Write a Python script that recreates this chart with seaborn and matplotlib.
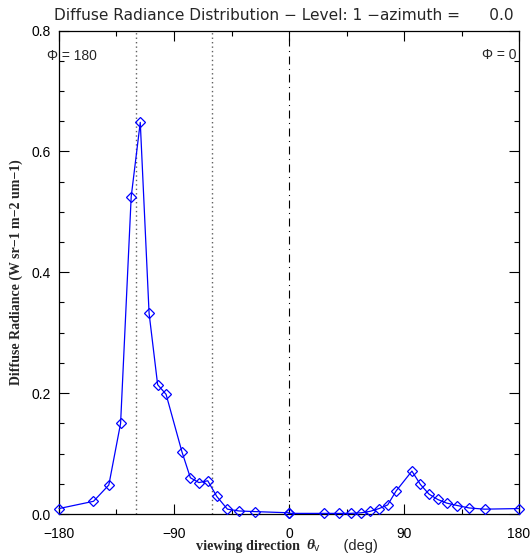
import numpy as np
import pandas as pd
import seaborn as sns
import matplotlib
matplotlib.use("Agg")
import matplotlib.pyplot as plt
from matplotlib.ticker import MultipleLocator, FormatStrFormatter
from matplotlib.offsetbox import TextArea, HPacker, AnnotationBbox

# ---- data ----
view_dir = [-180, -153, -141, -131.8, -123.5, -116.4, -109.5, -102.8, -96.2,
            -83.8, -77.2, -70.5, -63.6, -56.5, -48.2, -39, -27, 0,
            0, 27, 39, 48.2, 56.5, 63.6, 70.5, 77.2, 83.8,
            96.2, 102.8, 109.5, 116.4, 123.5, 131.8, 141, 153, 180]
radiance = [0.009, 0.021, 0.048, 0.150, 0.525, 0.648, 0.332, 0.214, 0.198,
            0.103, 0.060, 0.052, 0.055, 0.029, 0.008, 0.005, 0.004, 0.002,
            0.001, 0.001, 0.001, 0.001, 0.002, 0.0045, 0.009, 0.015, 0.038,
            0.071, 0.049, 0.033, 0.024, 0.018, 0.014, 0.010, 0.008, 0.009]
dotted_lines = [-120, -60]
dashdot_line = [0]
x_ticks = [-180, -90, 0, 90, 180]
y_ticks = [0.0, 0.2, 0.4, 0.6, 0.8]
title = "Diffuse Radiance Distribution \u2212 Level: 1 \u2212azimuth =      0.0"
left_note = "\u03a6 = 180"
right_note = "\u03a6 = 0"

df = pd.DataFrame({"view": view_dir, "rad": radiance})

sns.set_style("ticks")
plt.rcParams["font.family"] = ["Liberation Sans", "DejaVu Sans"]
plt.rcParams["mathtext.fontset"] = "custom"
plt.rcParams["mathtext.it"] = "Liberation Serif:italic:bold"
plt.rcParams["mathtext.rm"] = "Liberation Sans"

fig = plt.figure(figsize=(5.31, 5.57), dpi=100)
ax = fig.add_axes([59 / 531, 1 - 514 / 557, 460 / 531, 483.5 / 557])

for xv in dotted_lines:
    ax.axvline(xv, color="#606060", lw=1.0, linestyle=(0, (1, 2.2)), zorder=1)
for xv in dashdot_line:
    ax.axvline(xv, color="black", lw=0.8, linestyle=(0, (7.2, 4, 1, 4)), zorder=1)

sns.lineplot(data=df, x="view", y="rad", estimator=None, sort=False, ax=ax,
             color="#0000ff", lw=0.9, marker="D", markersize=5.5,
             markerfacecolor="none", markeredgecolor="#0000ff",
             markeredgewidth=0.9, zorder=3, clip_on=False)

ax.set_xlim(-180, 180)
ax.set_ylim(0, 0.8)
ax.set_xticks(x_ticks)
ax.set_yticks(y_ticks)
ax.xaxis.set_minor_locator(MultipleLocator(45))
ax.yaxis.set_minor_locator(MultipleLocator(0.05))
ax.yaxis.set_major_formatter(FormatStrFormatter("%.1f"))
ax.tick_params(which="both", direction="in", top=True, right=True,
               colors="black", labelsize=10, width=0.8)
ax.tick_params(which="major", length=7)
ax.tick_params(which="minor", length=3.5)
ax.tick_params(axis="x", which="major", pad=9)
ax.tick_params(axis="y", which="major", pad=6)
for s in ax.spines.values():
    s.set_visible(True)
    s.set_color("black")
    s.set_linewidth(0.9)

ax.set_xlabel("")
ax.set_ylabel("Diffuse Radiance (W sr\u22121 m\u22122 um\u22121)",
              fontfamily="Liberation Serif", fontweight="bold", fontsize=10,
              labelpad=6)

fig.text(284 / 531, 1 - 16 / 557, title, ha="center", va="center",
         fontsize=11.1, fontfamily="DejaVu Sans")

ax.text(47 / 531, 1 - 56 / 557, left_note, transform=fig.transFigure,
        ha="left", va="center", fontsize=10)
ax.text(517 / 531, 1 - 55 / 557, right_note, transform=fig.transFigure,
        ha="right", va="center", fontsize=10)

# x label with mixed fonts
t1 = TextArea("viewing direction",
              textprops=dict(fontfamily="Liberation Serif", fontweight="bold", fontsize=10.2))
t2 = TextArea(r"$\theta_{\mathrm{v}}$", textprops=dict(fontsize=11))
t3 = TextArea("    (deg)", textprops=dict(fontfamily="Liberation Sans", fontsize=10.5))
pack = HPacker(children=[t1, t2, t3], align="baseline", pad=0, sep=4)
ab = AnnotationBbox(pack, (287 / 531, 1 - 546 / 557), xycoords="figure fraction",
                    frameon=False, box_alignment=(0.5, 0.5))
fig.add_artist(ab)

fig.savefig("out.png", dpi=100)
